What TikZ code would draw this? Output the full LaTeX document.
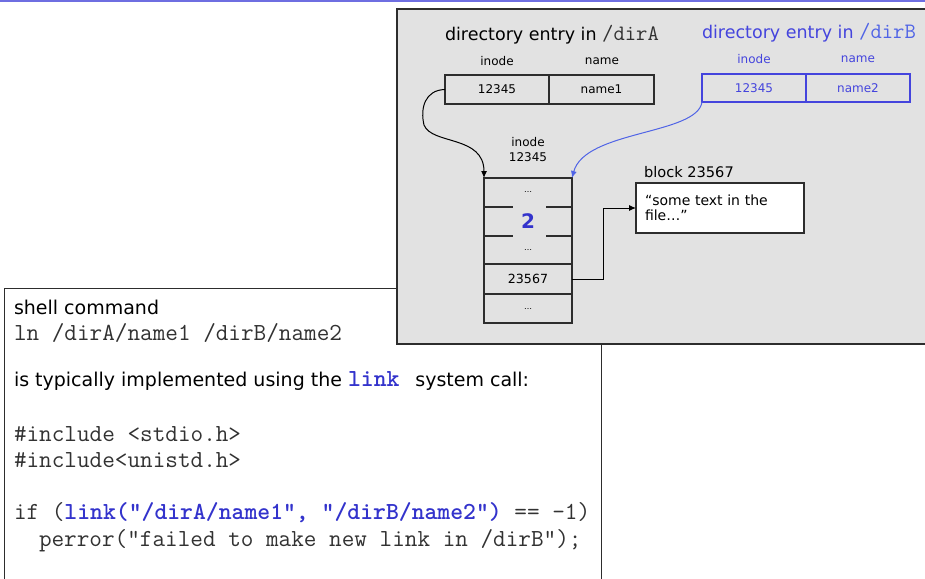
\documentclass[tikz,border=0pt]{standalone}
\usepackage{fontspec}
\setmainfont{DejaVu Sans}
\usetikzlibrary{arrows.meta}

\definecolor{panelgray}{RGB}{226,226,226}
\definecolor{edgegray}{RGB}{45,45,45}
\definecolor{codegray}{RGB}{50,50,50}
\definecolor{kwblue}{RGB}{51,51,204}
\definecolor{dirblue}{RGB}{68,68,221}
\definecolor{curveblue}{RGB}{80,100,230}
\definecolor{topline}{RGB}{110,110,225}

% typewriter text: Latin Modern Mono, sized to a 12.5pt character pitch
\newcommand{\codesize}{\ttfamily\fontsize{24.5}{26}\selectfont}

\tikzset{
  txt/.style={inner sep=0pt, outer sep=0pt},
  bigsans/.style={txt, font=\fontsize{19}{22}\selectfont},
  codeline/.style={txt, font=\codesize, text=codegray},
  titlefont/.style={txt, font=\fontsize{17.5}{21}\selectfont},
  smallfont/.style={txt, font=\fontsize{12}{15}\selectfont},
  dircell/.style={draw=edgegray, line width=1.1pt, inner sep=0pt, outer sep=0pt,
    minimum height=29pt, font=\fontsize{12}{14}\selectfont},
  bluecell/.style={dircell, draw=dirblue, text=dirblue},
  rowcell/.style={inner sep=0pt, outer sep=0pt, minimum width=88pt, font=\fontsize{12.6}{14}\selectfont},
  dots/.style={font=\fontsize{8}{9}\selectfont},
  ptr/.style={line width=1pt, -{Latex[length=7pt,width=6pt]}},
}

\begin{document}
\begin{tikzpicture}[x=1pt,y=-1pt]
\useasboundingbox (0,0) rectangle (925,578);
\clip (0,0) rectangle (925,578);
\fill[white] (0,0) rectangle (925,578);
\fill[topline] (0,0) rectangle (925,1.8);

% ---- code box -------------------------------------------------------
\node[draw=edgegray, line width=1.3pt, fill=white, anchor=north west,
      minimum width=597pt, minimum height=320pt, inner sep=0pt] (codebox) at (4,288) {};

\node[bigsans, anchor=base west] (shell) at (14,314) {shell command};
\node[codeline, anchor=base west] (lncmd) at (14,340) {ln /dirA/name1 /dirB/name2};
\node[bigsans, anchor=base west] (expl) at (14,386)
  {is typically implemented using the {\codesize\bfseries\color{kwblue}link }\hspace{3pt}system call:};
\node[codeline, anchor=base west] (inc1) at (14,441) {\#include <stdio.h>};
\node[codeline, anchor=base west] (inc2) at (14,467) {\#include<unistd.h>};
\node[codeline, anchor=base west] (ifln) at (14,519)
  {if ({\bfseries\color{kwblue}link(“/dirA/name1”, “/dirB/name2”)} == -1)};
\node[codeline, anchor=base west] (perr) at (39,546) {perror(“failed to make new link in /dirB”);};

% ---- gray panel -----------------------------------------------------
\node[draw=edgegray, line width=1.6pt, fill=panelgray, anchor=north west,
      minimum width=545pt, minimum height=335pt, inner sep=0pt] (panel) at (396,8) {};

% directory entry in /dirA
\node[titlefont, anchor=base west] (titleA) at (445,41)
  {directory entry in {\ttfamily\fontsize{22}{22}\selectfont\color{codegray}/dirA}};
\node[smallfont] (hinoA) at (497,61) {inode};
\node[smallfont] (hnamA) at (602,61) {name};
\node[dircell, minimum width=104pt] (inoA) at (497,89.5) {12345};
\node[dircell, minimum width=105pt] (namA) at (601.5,89.5) {name1};

% directory entry in /dirB
\node[titlefont, anchor=base west, text=dirblue] (titleB) at (702,38.5)
  {directory entry in {\ttfamily\fontsize{22}{22}\selectfont\color{curveblue}/dirB}};
\node[smallfont, text=dirblue] (hinoB) at (754,59) {inode};
\node[smallfont, text=dirblue] (hnamB) at (858,59) {name};
\node[bluecell, minimum width=104pt, minimum height=28pt] (inoB) at (754,88) {12345};
\node[bluecell, minimum width=104pt, minimum height=28pt] (namB) at (858,88) {name2};

% inode 12345
\node[smallfont, align=center] (ilabel) at (528,150) {inode\\12345};
\node[draw=edgegray, line width=1.1pt, inner sep=0pt, outer sep=0pt,
      minimum width=88pt, minimum height=145pt] (itab) at (528,250.5) {};
\draw[edgegray, line width=1.1pt]
  (484,207) -- (513,207)  (546,207) -- (572,207)
  (484,236) -- (513,236)  (546,236) -- (572,236)
  (484,264) -- (572,264)
  (484,294) -- (572,294);
\node[rowcell, dots, minimum height=29pt] (r1) at (528,192.5) {…};
\node[rowcell, minimum height=29pt, font=\fontsize{20}{22}\selectfont\bfseries, text=kwblue] (r2) at (528,221.5) {2};
\node[rowcell, dots, minimum height=28pt] (r3) at (528,250) {…};
\node[rowcell, minimum height=30pt] (r4) at (528,279) {23567};
\node[rowcell, dots, minimum height=29pt] (r5) at (528,308.5) {…};

% data block
\node[txt, font=\fontsize{14.6}{17}\selectfont, anchor=base west] (blabel) at (644,177) {block 23567};
\node[draw=edgegray, line width=1.1pt, fill=white, inner xsep=9pt, inner ysep=0pt, outer sep=0pt,
      minimum width=168pt, minimum height=50pt, text width=150pt, align=left,
      font=\fontsize{14}{15}\selectfont] (blk) at (720,208) {“some text in the\\file…”};

% pointers
\draw[ptr, black] (inoA.west) .. controls (425,90) and (420,108) .. (424,125)
  .. controls (432,145) and (484,135) .. (itab.north west);
\draw[ptr, curveblue] (inoB.south west) .. controls (697,135) and (585,130) .. (itab.north east);
\draw[ptr, black] (r4.east) -- ++(31,0) |- (blk.west);
\end{tikzpicture}
\end{document}
